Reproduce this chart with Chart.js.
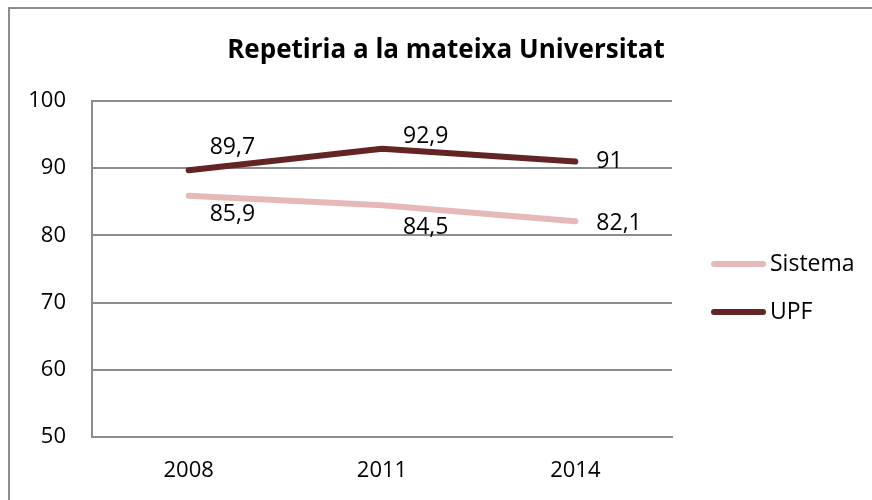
<!DOCTYPE html>
<html>
<head>
<meta charset="utf-8">
<script src="https://cdn.jsdelivr.net/npm/chart.js@4/dist/chart.umd.min.js"></script>
<style>
  html, body { margin: 0; padding: 0; background: #fff; }
  #wrap { position: relative; width: 872px; height: 500px; }
  #frame { position: absolute; left: 8px; top: 7px; right: 0; bottom: 0;
           border-left: 2px solid #8c8c8c; border-top: 2px solid #8c8c8c; pointer-events: none; }
</style>
</head>
<body>
<div id="wrap">
  <canvas id="c" width="872" height="500"></canvas>
  <div id="frame"></div>
</div>
<script>
// ------- data -------
const TITLE = 'Repetiria a la mateixa Universitat';
const years = ['2008', '2011', '2014'];
const sistema = [85.9, 84.5, 82.1];
const upf = [89.7, 92.9, 91];
const yTicks = [50, 60, 70, 80, 90, 100];

// label offsets (px, from the point) – Excel placed them by hand
const sistemaLabelDy = [19, 22, 2];
const upfLabelDy = [-23, -12, 0];

const FONT = '"Open Sans", "Liberation Sans", sans-serif';
const GRID = '#8c8c8c';

const fmt = v => String(v).replace('.', ',');

// data labels + legend + title, drawn after the datasets
const decor = {
  id: 'decor',
  afterDatasetsDraw(chart) {
    const { ctx, chartArea } = chart;
    ctx.save();
    ctx.fillStyle = '#000';
    ctx.textBaseline = 'middle';
    ctx.textAlign = 'left';
    ctx.font = `23px ${FONT}`;
    chart.data.datasets.forEach((ds, di) => {
      const meta = chart.getDatasetMeta(di);
      meta.data.forEach((pt, i) => {
        ctx.fillText(fmt(ds.data[i]), pt.x + 21, pt.y + ds.labelDy[i]);
      });
    });

    // legend
    const lx = chartArea.right + 40;
    const midY = (chartArea.top + chartArea.bottom) / 2 + 19;
    chart.data.datasets.forEach((ds, di) => {
      const y = midY + (di === 0 ? -24 : 24);
      ctx.strokeStyle = ds.borderColor;
      ctx.lineWidth = ds.borderWidth;
      ctx.lineCap = 'round';
      ctx.beginPath();
      ctx.moveTo(lx + 2, y);
      ctx.lineTo(lx + 51, y);
      ctx.stroke();
      ctx.fillText(ds.label, lx + 58, y);
    });

    // title
    ctx.font = `bold 26px ${FONT}`;
    ctx.textAlign = 'center';
    ctx.fillText(TITLE, 446, 51);
    ctx.restore();
  }
};

new Chart(document.getElementById('c'), {
  type: 'line',
  data: {
    labels: years,
    datasets: [
      { label: 'Sistema', data: sistema, borderColor: '#e6b9b8', borderWidth: 6,
        labelDy: sistemaLabelDy },
      { label: 'UPF', data: upf, borderColor: '#632523', borderWidth: 6,
        labelDy: upfLabelDy },
    ]
  },
  options: {
    responsive: false,
    animation: false,
    devicePixelRatio: 1,
    layout: { padding: { top: 101, right: 200, bottom: 0, left: 12 } },
    elements: {
      point: { radius: 0, hoverRadius: 0 },
      line: { tension: 0, borderCapStyle: 'round', borderJoinStyle: 'round' }
    },
    plugins: { legend: { display: false }, title: { display: false }, tooltip: { enabled: false } },
    scales: {
      x: {
        offset: true,
        grid: { display: false, drawTicks: false },
        border: { display: true, color: GRID, width: 2 },
        ticks: { color: '#000', font: { family: FONT, size: 22 }, padding: 21 },
        afterFit: s => { s.height = 63; }
      },
      y: {
        min: 50, max: 100,
        afterBuildTicks: s => { s.ticks = yTicks.map(v => ({ value: v })); },
        grid: { color: GRID, lineWidth: 2, drawTicks: false },
        border: { display: true, color: GRID, width: 2 },
        ticks: { color: '#000', font: { family: FONT, size: 22 }, padding: 26 },
        afterFit: s => { s.width = 80; }
      }
    }
  },
  plugins: [decor]
});
</script>
</body>
</html>
